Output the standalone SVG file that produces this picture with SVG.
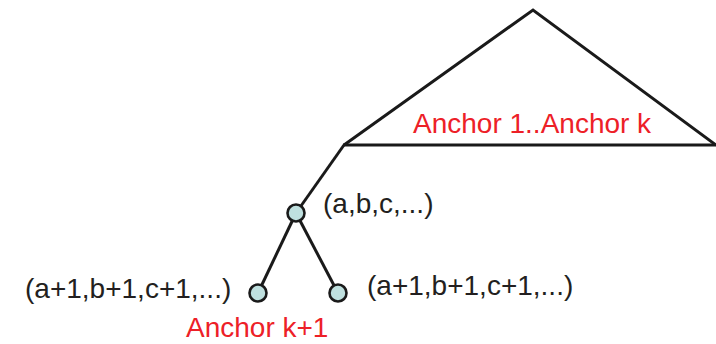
<svg xmlns="http://www.w3.org/2000/svg" width="716" height="344" viewBox="0 0 716 344">
<style>
.ln{stroke:#1a1a1a;stroke-width:3;fill:none;stroke-linejoin:miter}
.nd{fill:#bfe0df;stroke:#1a1a1a;stroke-width:2.6}
.t{font-family:"Liberation Sans",Arial,sans-serif;font-size:28px;fill:#231f20}
.r{font-family:"Liberation Sans",Arial,sans-serif;font-size:28px;fill:#ed2027}
</style>
<rect width="716" height="344" fill="#fff"/>
<g id="subtree">
<polyline class="ln" points="344,145 533,10 716,145"/>
<line class="ln" x1="343" y1="145" x2="716" y2="145"/>
<text class="r" x="413" y="133">Anchor 1..Anchor k</text>
</g>
<g id="connectors">
<line class="ln" x1="344" y1="145" x2="296" y2="213"/>
<line class="ln" x1="296" y1="213" x2="258" y2="293"/>
<line class="ln" x1="296" y1="213" x2="338" y2="293"/>
</g>
<g id="node-parent">
<circle class="nd" cx="296" cy="213" r="8.5"/>
<text class="t" x="323" y="213">(a,b,c,...)</text>
</g>
<g id="node-left">
<circle class="nd" cx="258" cy="293" r="8.5"/>
<text class="t" x="25" y="298">(a+1,b+1,c+1,...)</text>
<text class="r" x="186" y="337">Anchor k+1</text>
</g>
<g id="node-right">
<circle class="nd" cx="338" cy="293" r="8.5"/>
<text class="t" x="367" y="295">(a+1,b+1,c+1,...)</text>
</g>
</svg>
